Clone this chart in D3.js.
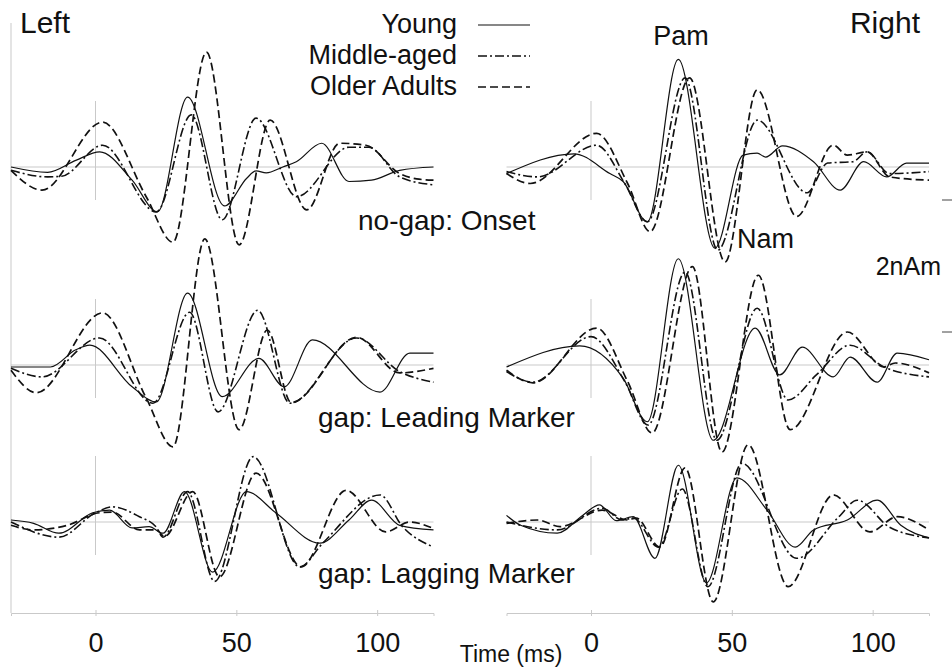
<!DOCTYPE html>
<html>
<head>
<meta charset="utf-8">
<script src="https://cdn.jsdelivr.net/npm/d3@7"></script>
<style>
  body { margin: 0; background: #fff; }
  text { font-family: "Liberation Sans", Arial, sans-serif; fill: #111; }
</style>
</head>
<body>
<svg id="chart"></svg>
<script>
var groups = ["Young", "Middle-aged", "Older Adults"];
var conditions = ["no-gap: Onset", "gap: Leading Marker", "gap: Lagging Marker"];
var sides = ["Left", "Right"];
var timeTicks = [0, 50, 100];
var timeRange = [-30, 120];
var peakLabels = ["Pam", "Nam"];
var scaleLabel = "2nAm";

// source waveforms, [time ms, amplitude nAm]
var leftOnsetYoung = [[-30,0],[-17,-0.08],[-7,0.1],[1.5,0.23],[13,-0.2],[22,-0.68],[32.7,1.06],[45.8,-0.59],[53.7,-0.17],[57,-0.06],[60.6,-0.09],[66.5,0],[71.3,0.08],[80.3,0.36],[90,-0.22],[98,-0.2],[108,-0.05],[120,0]];
var leftOnsetMiddle = [[-30,-0.05],[-17,-0.15],[-12,-0.14],[2.5,0.33],[21.6,-0.68],[34,0.79],[45,-0.8],[57,0.74],[71.4,-0.45],[90,0.3],[97,0.3],[108,-0.15],[120,-0.27]];
var leftOnsetOlder = [[-30,-0.05],[-19,-0.35],[2.5,0.68],[18,-0.45],[27.5,-1.14],[39.4,1.74],[51,-1.18],[62,0.71],[75,-0.65],[86.7,0.36],[96,0.33],[108,-0.1],[114,-0.18],[120,-0.2]];

var rightOnsetYoung = [[-30,-0.1],[-6,0.2],[6.7,-0.1],[11.4,-0.22],[20,-0.83],[31,1.63],[44,-1.23],[54,0.18],[59,0.21],[62,0.15],[68,0.32],[79,0.08],[88.5,-0.35],[96.8,0.08],[105,-0.15],[112,0.06],[120,0.06]];
var rightOnsetMiddle = [[-30,-0.07],[-19,-0.15],[2,0.33],[12,-0.25],[20,-0.83],[33.4,1.35],[45,-1.26],[59,0.71],[76.7,-0.39],[84,0.06],[93,0.08],[98,0.23],[106,-0.1],[120,-0.07]];
var rightOnsetOlder = [[-30,-0.1],[-21.6,-0.25],[2,0.51],[13,-0.25],[21,-0.98],[35,1.35],[47.6,-1.44],[59,1.17],[73,-0.75],[86,0.33],[91,0.18],[98,0.23],[106,-0.15],[120,-0.2]];

var leftLeadYoung = [[-30,-0.03],[-16,-0.03],[-7,0.23],[-2,0.3],[13,-0.33],[21.6,-0.56],[32.7,1.09],[45,-0.48],[58,0.1],[67,-0.33],[77,0.38],[101,-0.41],[111.6,0.18],[120,0.18]];
var leftLeadMiddle = [[-30,-0.05],[-19,-0.18],[1.4,0.41],[20.4,-0.58],[33.4,0.8],[43.5,-0.71],[57.6,0.83],[69,-0.58],[92.7,0.41],[108,-0.1],[120,-0.26]];
var leftLeadOlder = [[-30,-0.08],[-21,-0.42],[2.5,0.79],[18,-0.5],[27.5,-1.24],[38.8,1.91],[51,-0.98],[61,0.53],[69.5,-0.57],[92.7,0.42],[108,-0.12],[120,-0.05]];

var rightLeadYoung = [[-30,-0.03],[-4,0.29],[11.4,-0.2],[20,-0.86],[31,1.61],[43.4,-1.14],[58.3,0.56],[67,-0.15],[75,0.27],[86,-0.18],[92,0.12],[101.6,-0.26],[108.7,0.18],[120,0.08]];
var rightLeadMiddle = [[-30,-0.1],[-20.6,-0.26],[0,0.43],[12,-0.25],[20.3,-0.91],[33.4,1.41],[44.7,-1.14],[59,0.86],[70,-0.53],[80,-0.15],[92,0.3],[104,-0.03],[120,-0.18]];
var rightLeadOlder = [[-30,-0.08],[-20.6,-0.27],[2,0.56],[13,-0.25],[21.7,-1.03],[36,1.49],[46.5,-1.32],[59.4,1.36],[70.7,-0.98],[91,0.5],[104,-0.03],[108,0.03],[120,-0.12]];

var leftLagYoung = [[-30,0.03],[-22,-0.02],[-13,-0.17],[-1,0.14],[5,0.18],[13,-0.09],[19,-0.07],[24,-0.17],[31.6,0.46],[41.6,-0.76],[53.6,0.46],[64,0.14],[79.6,-0.32],[90,0.03],[98,0.33],[108,-0.05],[120,-0.12]];
var leftLagMiddle = [[-30,0],[-13,-0.23],[0,0.14],[6,0.23],[15.6,0.08],[21.6,-0.08],[24,-0.23],[32.7,0.46],[42.3,-0.9],[56,0.99],[72.5,-0.68],[80.7,-0.32],[101,0.41],[109,-0.07],[120,-0.38]];
var leftLagOlder = [[-30,-0.05],[-22,-0.12],[-10,-0.05],[1.4,0.14],[6,0.15],[15.6,-0.12],[21.6,-0.12],[24.5,-0.22],[34.5,0.46],[44,-0.83],[57,0.74],[73,-0.68],[89,0.48],[103,-0.15],[111.6,0],[120,-0.1]];

var rightLagYoung = [[-30,0.1],[-25,-0.05],[-12,-0.17],[-3,0.1],[3,0.26],[9,0.02],[15,0.08],[22.7,-0.55],[31,0.86],[41,-0.92],[51.8,0.67],[62.5,0.18],[72.5,-0.38],[79,-0.12],[91,0.03],[101.6,0.33],[110,-0.05],[120,-0.24]];
var rightLagMiddle = [[-30,0],[-12,-0.12],[4,0.21],[11,0.03],[15,0.06],[24,-0.38],[32.4,0.5],[41.5,-0.98],[53.6,0.89],[73,-0.55],[88,0.08],[94.5,0.33],[106,-0.08],[120,-0.24]];
var rightLagOlder = [[-30,-0.02],[-19,0.03],[-11,-0.07],[4,0.18],[12.8,0.03],[16,0.06],[24.5,-0.38],[33.4,0.82],[43.4,-1.21],[55.8,1.17],[70,-0.98],[86,0.41],[99,-0.15],[108.7,0.08],[120,-0.12]];

var waves = [
    [[leftOnsetYoung, leftOnsetMiddle, leftOnsetOlder], [rightOnsetYoung, rightOnsetMiddle, rightOnsetOlder]],
    [[leftLeadYoung, leftLeadMiddle, leftLeadOlder], [rightLeadYoung, rightLeadMiddle, rightLeadOlder]],
    [[leftLagYoung, leftLagMiddle, leftLagOlder], [rightLagYoung, rightLagMiddle, rightLagOlder]]
];

var width = 952, height = 672;
var grey = "#c9c9c9";
var styles = [
    {dash: null, w: 1.2},
    {dash: "9,3,2,3", w: 1.6},
    {dash: "8,4", w: 1.7}
];

var svg = d3.select("#chart")
    .attr("width", width)
    .attr("height", height);

var x = [
    d3.scaleLinear().domain(timeRange).range([11, 433.5]),
    d3.scaleLinear().domain(timeRange).range([506.5, 929])
];
var rowBase = [167, 365, 522];
var pxPerNAm = 66;
var y = rowBase.map(b => d3.scaleLinear().domain([-1, 1]).range([b + pxPerNAm, b - pxPerNAm]));
var axisY = 613;

// left frame line
svg.append("line")
    .attr("x1", x[0](-30)).attr("x2", x[0](-30))
    .attr("y1", 23).attr("y2", axisY)
    .attr("stroke", grey).attr("stroke-width", 1);

waves.forEach(function(row, r) {
    row.forEach(function(panel, s) {
        var xs = x[s], ys = y[r];
        var g = svg.append("g");
        g.append("line")
            .attr("x1", xs(timeRange[0])).attr("x2", xs(timeRange[1]))
            .attr("y1", ys(0)).attr("y2", ys(0))
            .attr("stroke", grey).attr("stroke-width", 1);
        g.append("line")
            .attr("x1", xs(0)).attr("x2", xs(0))
            .attr("y1", ys(-0.5)).attr("y2", ys(1))
            .attr("stroke", grey).attr("stroke-width", 1);

        var line = d3.line()
            .x(d => xs(d[0]))
            .y(d => ys(d[1]))
            .curve(d3.curveMonotoneX);

        g.selectAll("path.wave")
            .data(panel)
            .enter()
            .append("path")
            .attr("class", "wave")
            .attr("d", d => line(d))
            .attr("fill", "none")
            .attr("stroke", "#111")
            .attr("stroke-width", (d, i) => styles[i].w)
            .attr("stroke-dasharray", (d, i) => styles[i].dash);
    });
});

// time axes
x.forEach(function(xs) {
    var ax = svg.append("g")
        .attr("transform", "translate(0," + axisY + ")")
        .call(d3.axisBottom(xs).tickValues(timeTicks).tickSize(3).tickPadding(17).tickFormat(d3.format("d")));
    ax.select(".domain").attr("stroke", grey);
    ax.selectAll(".tick line").attr("stroke", grey).attr("y1", -3);
    ax.selectAll(".tick text")
        .style("font-family", "'Liberation Sans', Arial, sans-serif")
        .style("font-size", "27px")
        .attr("fill", "#111");
});

svg.append("text")
    .attr("x", 511).attr("y", 662)
    .attr("text-anchor", "middle")
    .style("font-size", "23px")
    .text("Time (ms)");

// side titles
svg.append("text").attr("x", 20).attr("y", 33).style("font-size", "30px").text(sides[0]);
svg.append("text").attr("x", 920).attr("y", 33).attr("text-anchor", "end").style("font-size", "30px").text(sides[1]);

// condition labels
var condPos = [[358, 230], [318, 427], [318, 583]];
conditions.forEach(function(c, i) {
    svg.append("text")
        .attr("x", condPos[i][0]).attr("y", condPos[i][1])
        .style("font-size", "28px")
        .text(c);
});

// peak labels
svg.append("text").attr("x", 681).attr("y", 45).attr("text-anchor", "middle").style("font-size", "27px").text(peakLabels[0]);
svg.append("text").attr("x", 737).attr("y", 248).style("font-size", "27px").text(peakLabels[1]);

// legend
var legend = svg.append("g");
groups.forEach(function(name, i) {
    var ly = 25 + i * 31;
    legend.append("text")
        .attr("x", 457).attr("y", ly + 8)
        .attr("text-anchor", "end")
        .style("font-size", "27px")
        .text(name);
    legend.append("line")
        .attr("x1", 478).attr("x2", 530)
        .attr("y1", ly).attr("y2", ly)
        .attr("stroke", "#111")
        .attr("stroke-width", styles[i].w)
        .attr("stroke-dasharray", styles[i].dash);
});

// 2 nAm scale bar ticks; the vertical bar itself falls just past the figure edge
var bar = svg.append("g");
[200, 200 + 2 * pxPerNAm].forEach(function(t) {
    bar.append("line").attr("x1", 942).attr("x2", 952)
        .attr("y1", t).attr("y2", t)
        .attr("stroke", "#444").attr("stroke-width", 1);
});
bar.append("text").attr("x", 941).attr("y", 275)
    .attr("text-anchor", "end")
    .style("font-size", "25px")
    .text(scaleLabel);
</script>
</body>
</html>
